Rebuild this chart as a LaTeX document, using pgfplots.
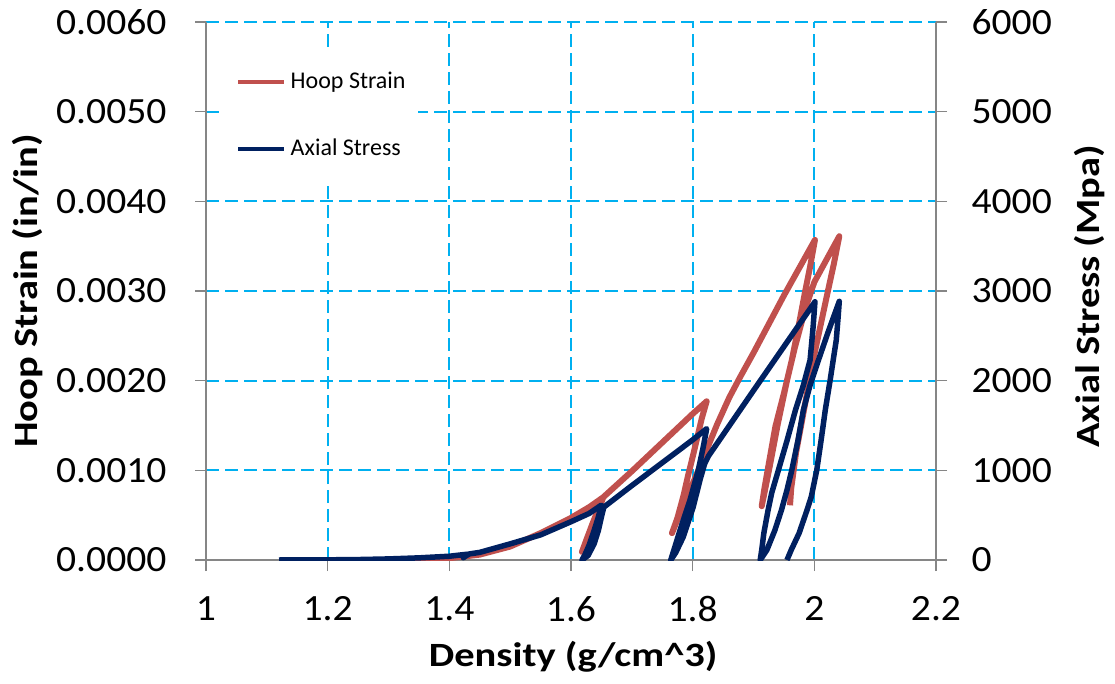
\documentclass[border=0pt]{standalone}
\usepackage{fontspec}
\setmainfont{Carlito}
\newfontfamily\tickfont{Carlito}[FakeStretch=1.07]
\newfontfamily\titlefont{Carlito}[FakeStretch=1.19]
\usepackage{pgfplots}
\pgfplotsset{compat=1.18}

\definecolor{hoopred}{RGB}{192,80,77}
\definecolor{stressblue}{RGB}{0,32,96}
\definecolor{gridblue}{RGB}{0,176,240}
\definecolor{axisgray}{RGB}{134,134,134}

\pgfplotsset{
  common/.style={
    at={(206pt,123pt)}, anchor=south west,
    width=730pt, height=538pt, scale only axis,
    xmin=1, xmax=2.2,
    axis line style={axisgray, line width=1.8pt},
    tick style={axisgray, line width=1.5pt},
    major tick length=11pt,
    tick align=outside,
    ticklabel style={font=\tickfont\fontsize{37}{40}\selectfont},
    /pgf/number format/assume math mode=true,
    label style={font=\titlefont\bfseries\fontsize{34}{36}\selectfont},
    scaled y ticks=false,
  }
}

\begin{document}
\begin{tikzpicture}
\useasboundingbox (0,0) rectangle (1115pt,683pt);

% Left axis: hoop strain
\begin{axis}[common,
  axis x line*=bottom, axis y line*=left,
  ymin=0, ymax=0.006,
  ytick={0,0.001,0.002,0.003,0.004,0.005,0.006},
  xtick={1,1.2,1.4,1.6,1.8,2,2.2},
  yticklabel style={/pgf/number format/.cd, fixed, fixed zerofill, precision=4},
  xticklabel shift=22pt, yticklabel shift=25pt,
  grid=major,
  grid style={gridblue, line width=1.8pt, dash pattern=on 13pt off 6pt},
  xlabel={Density (g/cm\textasciicircum 3)},
  xlabel style={at={(axis description cs:0.503,-0.180)}, anchor=center},
  ylabel={Hoop Strain (in/in)},
  ylabel style={at={(axis description cs:-0.2438,0.5)}, anchor=center},
  legend style={at={(0.0247,0.948)}, anchor=north west, draw=none, fill=white,
    inner xsep=12pt, inner ysep=21pt, row sep=45pt, column sep=4pt,
    nodes={inner sep=0pt, text height=17pt, text depth=5pt},
    font=\fontsize{24}{26}\selectfont},
  legend cell align=left,
  legend image code/.code={\draw[#1, line width=4.5pt] (0pt,0pt) -- (46pt,0pt);},
]
\addplot[hoopred, line width=6pt, line join=round] coordinates {
  (1.30,0) (1.35,0.000005) (1.40,0.00002) (1.45,0.00006) (1.50,0.00015)
  (1.55,0.00030) (1.60,0.00047) (1.63,0.00059) (1.653,0.00070)
  (1.646,0.00057) (1.638,0.00043) (1.628,0.00026) (1.618,0.00009)
  (1.625,0.00022) (1.635,0.00040) (1.645,0.00057) (1.653,0.00070)
  (1.70,0.00099) (1.75,0.00131) (1.80,0.00163) (1.823,0.00177)
  (1.815,0.00158) (1.807,0.00135) (1.800,0.00115) (1.792,0.00093)
  (1.785,0.00072) (1.775,0.00047) (1.766,0.00030)
  (1.775,0.00045) (1.790,0.00069) (1.805,0.00093) (1.820,0.00118)
  (1.840,0.00151) (1.860,0.00181) (1.878,0.00204)
  (1.90,0.00231) (1.95,0.00295) (2.001,0.00357)
  (1.993,0.00327) (1.985,0.00300) (1.975,0.00264) (1.963,0.00223)
  (1.950,0.00186) (1.936,0.00149) (1.925,0.00107) (1.918,0.00080) (1.9135,0.00060)
  (1.918,0.00075) (1.926,0.00102) (1.940,0.00152) (1.955,0.00200)
  (1.968,0.00237) (1.985,0.00280) (2.000,0.00310) (2.020,0.00335) (2.041,0.00361)
  (2.032,0.00330) (2.022,0.00299) (2.010,0.00261) (1.998,0.00223)
  (1.988,0.00186) (1.978,0.00149) (1.970,0.00120) (1.966,0.00100)
  (1.962,0.00080) (1.960,0.00061)
};
\addlegendentry{Hoop Strain}
\addlegendimage{stressblue}
\addlegendentry{Axial Stress}
\end{axis}

% Right axis: axial stress
\begin{axis}[common,
  axis y line*=right, axis x line=none,
  ymin=0, ymax=6000,
  ytick={0,1000,2000,3000,4000,5000,6000},
  yticklabel style={/pgf/number format/1000 sep={}},
  yticklabel shift=21pt,
  ylabel={Axial Stress (Mpa)},
  ylabel style={at={(axis description cs:1.211,0.49)}, anchor=center},
]
\addplot[stressblue, line width=5.5pt, line join=round] coordinates {
  (1.12,0) (1.20,2) (1.25,5) (1.30,12) (1.35,24) (1.40,42)
  (1.43,65) (1.426,40) (1.423,25) (1.427,45) (1.433,68)
  (1.45,85) (1.50,180) (1.55,280) (1.60,427) (1.63,520) (1.650,613)
  (1.645,480) (1.638,330) (1.630,170) (1.623,60) (1.618,0)
  (1.628,50) (1.638,180) (1.645,330) (1.650,480) (1.654,590)
  (1.70,830) (1.75,1085) (1.80,1340) (1.823,1465)
  (1.8175,1264) (1.8093,1004) (1.7956,669) (1.7793,335) (1.770,130) (1.764,0)
  (1.772,80) (1.7847,260) (1.801,594) (1.812,892) (1.820,1080) (1.826,1160)
  (1.90,1890) (2.001,2880)
  (1.998,2600) (1.993,2230) (1.982,1950) (1.969,1673) (1.955,1330)
  (1.941,1004) (1.930,750) (1.924,558) (1.917,300) (1.9135,112) (1.911,0)
  (1.922,112) (1.935,330) (1.946,558) (1.955,780) (1.963,1004)
  (1.973,1330) (1.982,1673) (1.993,1950) (2.004,2175) (2.022,2530) (2.041,2885)
  (2.039,2700) (2.036,2450) (2.031,2230) (2.026,2007) (2.018,1673)
  (2.011,1330) (2.004,1004) (1.995,706) (1.988,558) (1.975,300)
  (1.962,112) (1.955,0)
};
\end{axis}
\end{tikzpicture}
\end{document}
